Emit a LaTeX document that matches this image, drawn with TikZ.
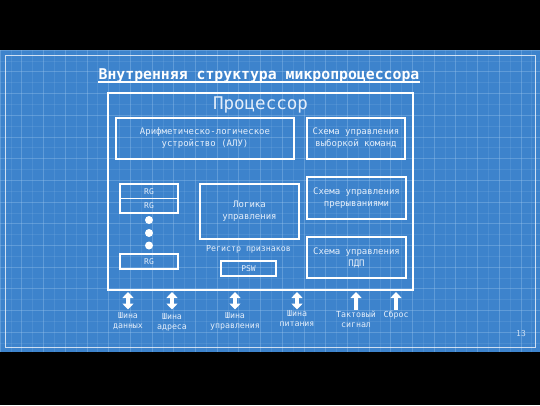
\documentclass[tikz,border=0pt]{standalone}
\usepackage{fontspec}
\setmonofont{DejaVu Sans Mono}
\usetikzlibrary{arrows.meta}
\definecolor{bpblue}{RGB}{61,131,204}
\definecolor{gridc}{RGB}{160,200,240}
\definecolor{txtc}{RGB}{228,238,250}
\tikzset{
  box/.style={draw=white, line width=1.2pt, text=txtc, align=center, inner sep=0pt,
    font=\ttfamily\fontsize{9}{12}\selectfont},
  rgbox/.style={box, minimum width=58pt, font=\ttfamily\fontsize{8}{10}\selectfont},
  lbl/.style={text=txtc, align=center, inner sep=0pt, font=\ttfamily\fontsize{8.3}{10}\selectfont},
  bus/.style={draw=white, line width=4pt, {Triangle[width=11pt,length=6pt]}-{Triangle[width=11pt,length=6pt]}},
  sig/.style={draw=white, line width=4pt, -{Triangle[width=11pt,length=6pt]}},
  dot/.style={circle, fill=white, minimum size=8pt, inner sep=0pt}
}
\begin{document}
\begin{tikzpicture}[x=1pt,y=-1pt]
\useasboundingbox (0,0) rectangle (540,405);
\fill[black] (0,0) rectangle (540,405);
\fill[bpblue] (0,50) rectangle (540,352);
\begin{scope}
\clip (0,50) rectangle (540,352);
\foreach \i in {0,...,50} {
  \draw[gridc, opacity=0.15, line width=0.4pt] (10.85+\i*21.7,50) -- (10.85+\i*21.7,352);
}
\foreach \j in {0,...,28} {
  \draw[gridc, opacity=0.15, line width=0.4pt] (0,60.85+\j*21.7) -- (540,60.85+\j*21.7);
}
\foreach \i in {0,...,25} {
  \draw[gridc, opacity=0.35, line width=0.6pt] (\i*21.7,50) -- (\i*21.7,352);
}
\foreach \j in {0,...,14} {
  \draw[gridc, opacity=0.35, line width=0.6pt] (0,50+\j*21.7) -- (540,50+\j*21.7);
}
\end{scope}
\draw[white, opacity=0.75, line width=0.8pt] (5,55) rectangle (535,347);

\node[text=white, inner sep=0pt, font=\ttfamily\bfseries\fontsize{14.8}{16}\selectfont] (title) at (259,76) {Внутренняя структура микропроцессора};
\draw[white, line width=1.5pt] ([yshift=-2.2pt]title.base west) -- ([yshift=-2.2pt]title.base east);

\node[box, minimum width=305pt, minimum height=197pt] (proc) at (260.5,191.5) {};
\node[text=txtc, inner sep=0pt, font=\ttfamily\fontsize{17.5}{19}\selectfont] (proct) at (260.5,105) {Процессор};

\node[box, minimum width=178pt, minimum height=41pt] (alu) at (205,138.5) {Арифметическо-логическое\\устройство (АЛУ)};
\node[box, minimum width=98pt, minimum height=41pt] (vyb) at (356,138.5) {Схема управления\\выборкой команд};

\node[rgbox, minimum height=14.5pt] (rg1) at (149,191.25) {RG};
\node[rgbox, minimum height=14.5pt] (rg2) at (149,205.75) {RG};
\node[dot] (d1) at (149,220) {};
\node[dot] (d2) at (149,233) {};
\node[dot] (d3) at (149,245.5) {};
\node[rgbox, minimum height=15pt] (rg3) at (149,261.5) {RG};

\node[box, minimum width=99pt, minimum height=55pt] (logic) at (249.5,211.5) {Логика\\управления};
\node[lbl] (reg) at (248.5,249) {Регистр признаков};
\node[box, minimum width=55pt, minimum height=15pt, font=\ttfamily\fontsize{8}{10}\selectfont] (psw) at (248.5,268.5) {PSW};

\node[box, minimum width=99pt, minimum height=42pt] (prer) at (356.5,198) {Схема управления\\прерываниями};
\node[box, minimum width=99pt, minimum height=41pt] (pdp) at (356.5,257.5) {Схема управления\\ПДП};

% bottom signals
\node[lbl] (l1) at (128,321) {Шина\\данных};
\node[lbl] (l2) at (172,322) {Шина\\адреса};
\node[lbl] (l3) at (235,321) {Шина\\управления};
\node[lbl] (l4) at (297,319) {Шина\\питания};
\node[lbl] (l5) at (356,319) {Тактовый\\сигнал};
\node[lbl] (l6) at (396,315) {Сброс};

\foreach \n/\x in {1/128,2/172,3/235,4/297,5/356,6/396} {
  \coordinate (t\n) at (\x,292);
  \coordinate (b\n) at (\x,309.5);
}
\draw[bus] (b1) -- (t1);
\draw[bus] (b2) -- (t2);
\draw[bus] (b3) -- (t3);
\draw[bus] (b4) -- (t4);
\draw[sig] (b5) -- (t5);
\draw[sig] (b6) -- (t6);

\node[text=txtc, opacity=0.9, inner sep=0pt, font=\sffamily\fontsize{9}{10}\selectfont] (pg) at (521,334) {13};
\end{tikzpicture}
\end{document}
